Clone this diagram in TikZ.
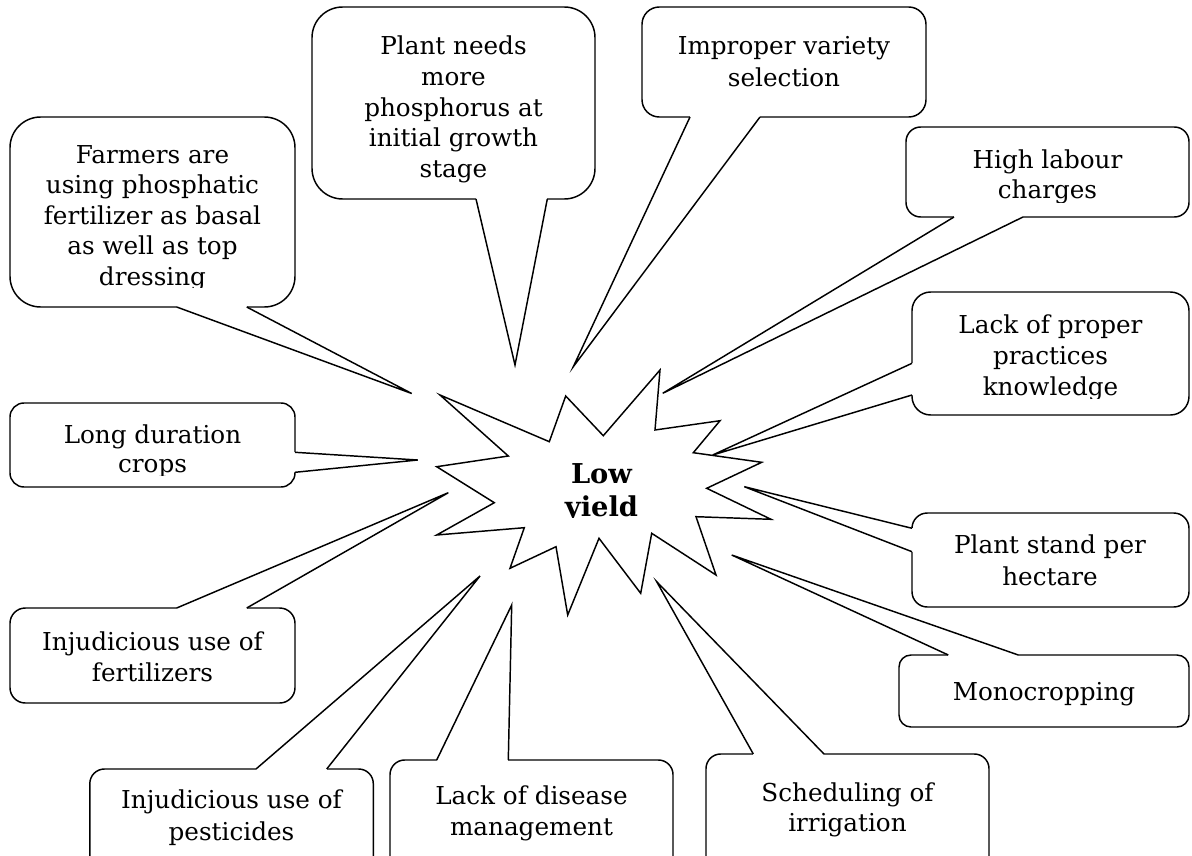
\documentclass[tikz,border=0pt]{standalone}
\usepackage{fontspec}
\setmainfont{DejaVu Serif}
\usetikzlibrary{fit}
\tikzset{
  cbox/.style={draw, fill=white, line width=1.1pt, inner sep=0pt, rounded corners=#1},
  cbox/.default=11pt,
  tl/.style={draw, fill=white, line width=1.1pt, line join=miter},
  lbl/.style={font=\fontsize{18.5}{22}\selectfont, inner sep=0pt, anchor=base},
  starlbl/.style={lbl, font=\bfseries\fontsize{20.5}{24}\selectfont},
  starst/.style={draw, fill=white, line width=1.1pt, line join=miter},
}
\newcommand\tailpath[1]{%
  \draw[white, line width=2.8pt] (#1-a) -- (#1-b);
  \filldraw[tl] (#1-a) -- (#1-t) -- (#1-b);}
\newcommand\textlines[5]{% name, x, first baseline, pitch, lines
  \foreach \t [count=\i] in {#5} {\node[lbl] (#1-\i) at (#2, {#3+(\i-1)*#4}) {\t};}}
\begin{document}
\begin{tikzpicture}[x=0.75pt,y=-0.75pt]
\useasboundingbox (0,0) rectangle (1192,856);
\clip (0,0) rectangle (1192,856);

% ---------- Farmers
\node[cbox=23pt, fit={(10,117) (295,307)}] (farmers) {};
\coordinate (farmers-a) at (176.7,307);
\coordinate (farmers-b) at (246.7,307);
\coordinate (farmers-t) at (411.7,393.5);
\tailpath{farmers}
\begin{scope}
\clip (10,117) rectangle (295,287);
\textlines{farmerstxt}{152.5}{163}{30.6}{Farmers are,using phosphatic,fertilizer as basal,as well as top,dressing}
\end{scope}

% ---------- Plant needs
\node[cbox=23pt, fit={(312,7) (595,199)}] (needs) {};
\coordinate (needs-a) at (476,199);
\coordinate (needs-b) at (547.3,199);
\coordinate (needs-t) at (515,365);
\tailpath{needs}
\begin{scope}
\clip (312,7) rectangle (595,182);
\textlines{needstxt}{453.5}{55}{30.5}{Plant needs,more,phosphorus at,initial growth,stage}
\end{scope}

% ---------- Improper variety
\node[cbox=13pt, fit={(642,7) (926,117)}] (improper) {};
\coordinate (improper-a) at (690,117);
\coordinate (improper-b) at (760,117);
\coordinate (improper-t) at (573.3,366.7);
\tailpath{improper}
\textlines{impropertxt}{784}{55}{32}{Improper variety,selection}

% ---------- High labour
\node[cbox=11pt, fit={(906,127) (1189,217)}] (labour) {};
\coordinate (labour-a) at (954,217);
\coordinate (labour-b) at (1023,217);
\coordinate (labour-t) at (662.7,393.3);
\tailpath{labour}
\begin{scope}
\clip (906,127) rectangle (1189,202);
\textlines{labourtxt}{1047.5}{168}{30.5}{High labour,charges}
\end{scope}

% ---------- Lack of proper
\node[cbox=14pt, fit={(912,292) (1189,415)}] (proper) {};
\coordinate (proper-a) at (912,363.3);
\coordinate (proper-b) at (912,395);
\coordinate (proper-t) at (712.7,455);
\tailpath{proper}
\begin{scope}
\clip (912,292) rectangle (1189,398);
\textlines{propertxt}{1050.5}{333}{31}{Lack of proper,practices,knowledge}
\end{scope}

% ---------- Long duration
\node[cbox=10.5pt, fit={(10,403) (295,487)}] (long) {};
\coordinate (long-a) at (295,452.3);
\coordinate (long-b) at (295,472.3);
\coordinate (long-t) at (417.7,460);
\tailpath{long}
\begin{scope}
\clip (10,403) rectangle (295,475);
\textlines{longtxt}{152.5}{443}{29.5}{Long duration,crops}
\end{scope}

% ---------- Plant stand
\node[cbox=11.5pt, fit={(912,513) (1189,607)}] (stand) {};
\coordinate (stand-a) at (912,528.3);
\coordinate (stand-b) at (912,551.7);
\coordinate (stand-t) at (744.3,486.7);
\tailpath{stand}
\textlines{standtxt}{1050}{553}{32}{Plant stand per,hectare}

% ---------- Fertilizers
\node[cbox=11.5pt, fit={(10,608) (295,703)}] (fert) {};
\coordinate (fert-a) at (176.7,608);
\coordinate (fert-b) at (246.7,608);
\coordinate (fert-t) at (448.3,492.7);
\tailpath{fert}
\textlines{ferttxt}{152.5}{650}{31.7}{Injudicious use of,fertilizers}

% ---------- Monocropping
\node[cbox=9pt, fit={(899,655) (1189,727)}] (mono) {};
\coordinate (mono-a) at (948.3,655);
\coordinate (mono-b) at (1018.3,655);
\coordinate (mono-t) at (731.7,555);
\tailpath{mono}
\textlines{monotxt}{1044}{700}{31}{Monocropping}

% ---------- Scheduling
\node[cbox=11pt, fit={(706,754) (989,880)}] (sched) {};
\coordinate (sched-a) at (753.3,754);
\coordinate (sched-b) at (824,754);
\coordinate (sched-t) at (656.7,581.7);
\tailpath{sched}
\textlines{schedtxt}{847.5}{801.7}{30}{Scheduling of,irrigation}

% ---------- Lack of disease
\node[cbox=11pt, fit={(390,760) (673,880)}] (disease) {};
\coordinate (disease-a) at (436.7,760);
\coordinate (disease-b) at (508.3,760);
\coordinate (disease-t) at (511.7,605);
\tailpath{disease}
\textlines{diseasetxt}{531.5}{804}{31}{Lack of disease,management}

% ---------- Pesticides
\node[cbox=11pt, fit={(89.8,769) (373.3,880)}] (pest) {};
\coordinate (pest-a) at (256,769);
\coordinate (pest-b) at (326.7,769);
\coordinate (pest-t) at (480,576);
\tailpath{pest}
\textlines{pesttxt}{231.5}{808}{32}{Injudicious use of,pesticides}

% ---------- Star
\filldraw[starst] (565.7,396) -- (603.3,435.7) -- (660,370) -- (655,430) -- (720,420.7)
  -- (693.3,452.7) -- (761.7,462.3) -- (706.7,488.3) -- (771,519.3) -- (696,516.7)
  -- (716,575) -- (651.7,533.3) -- (640.7,593.3) -- (599,538.3) -- (567.7,615)
  -- (556,546.7) -- (510,568.3) -- (524.3,527.7) -- (436.7,535) -- (494.3,502.7)
  -- (436.7,466.7) -- (508.3,456) -- (440,395) -- (549.3,441.7) -- cycle;
\begin{scope}
\clip (500,440) rectangle (700,517);
\node[starlbl] (low) at (601.5,483.3) {Low};
\node[starlbl] (yield) at (601.5,516.7) {yield};
\end{scope}
\end{tikzpicture}
\end{document}
